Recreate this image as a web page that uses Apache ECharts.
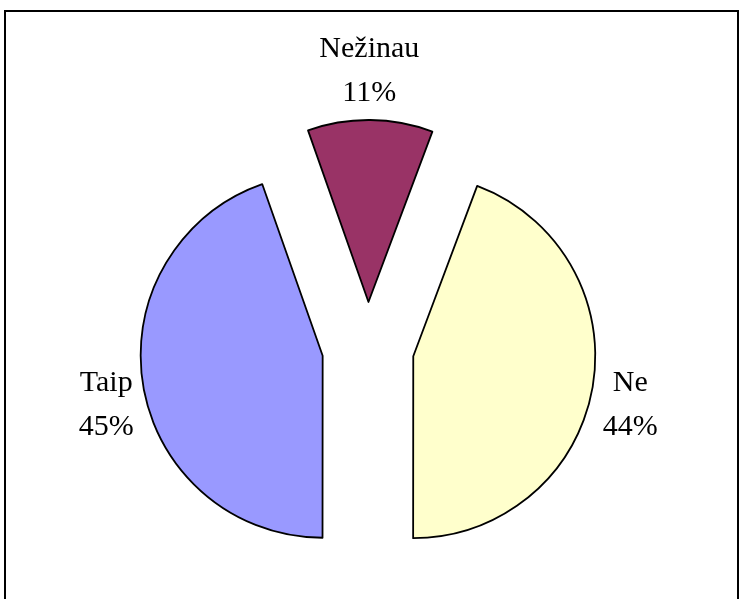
<!DOCTYPE html>
<html>
<head>
<meta charset="utf-8">
<script src="https://cdn.jsdelivr.net/npm/echarts@6/dist/echarts.min.js"></script>
<style>
  html, body { margin: 0; padding: 0; background: #fff; }
  #chart { width: 740px; height: 599px; }
</style>
</head>
<body>
<div id="chart"></div>
<script>
// duomenys
var categories = ["Nežinau", "Ne", "Taip"];
var values = [11.1, 44.3, 44.6];
var colors = ["#993366", "#FFFFCC", "#9999FF"];
// label nudges (dx, dy) from the default outside spot
var labelShift = [[-1, -49], [38, 16], [-37, 19]];

var myChart = echarts.init(document.getElementById("chart"));

myChart.setOption({
  animation: false,
  graphic: [
    {
      type: "rect",
      shape: { x: 5, y: 11, width: 733, height: 620 },
      style: { fill: "none", stroke: "#000", lineWidth: 2 },
      silent: true
    }
  ],
  series: [
    {
      type: "pie",
      center: [368, 348],
      radius: [0, 182],
      // Ne slice ends straight down
      startAngle: 109.4,
      clockwise: true,
      selectedMode: "multiple",
      selectedOffset: 46,
      emphasis: { disabled: true },
      itemStyle: { borderColor: "#000", borderWidth: 1.8 },
      label: {
        show: true,
        position: "outside",
        distanceToLabelLine: 0,
        fontFamily: "Liberation Serif",
        fontSize: 30,
        lineHeight: 44,
        color: "#000",
        formatter: function (p) {
          return p.name + "\n" + Math.round(p.percent) + "%";
        }
      },
      labelLine: { show: false, length: 0, length2: 0 },
      labelLayout: function (p) {
        var s = labelShift[p.dataIndex];
        return { align: "center", verticalAlign: "middle", dx: s[0], dy: s[1] };
      },
      data: categories.map(function (c, i) {
        return { name: c, value: values[i], selected: true, itemStyle: { color: colors[i] } };
      })
    }
  ]
});
</script>
</body>
</html>
